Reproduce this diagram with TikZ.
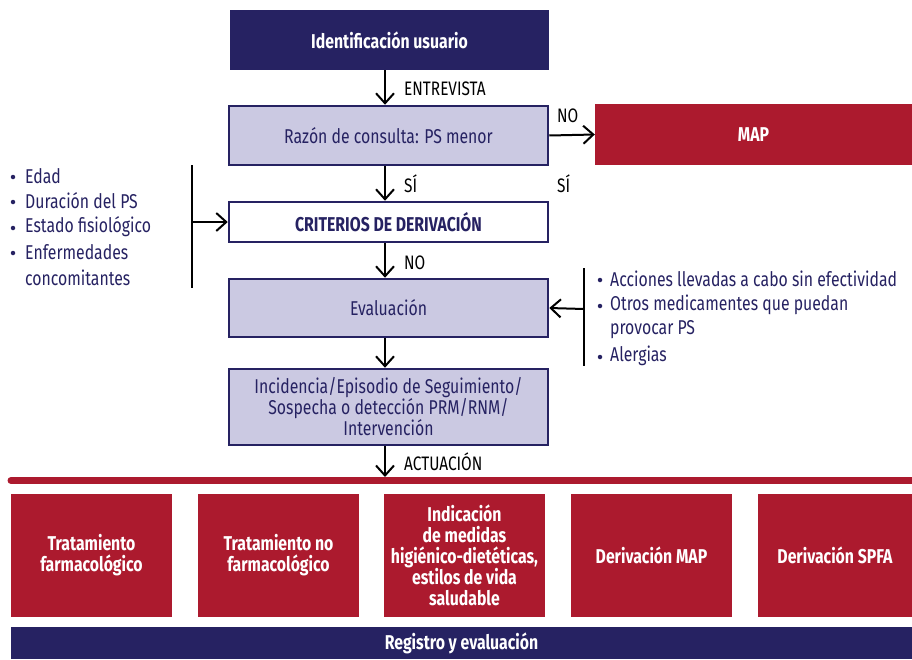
\documentclass[tikz,border=0pt]{standalone}
\usepackage{fontspec}
\setmainfont{Fira Sans}[FakeStretch=0.79]
\usetikzlibrary{arrows.meta}
\definecolor{navy}{HTML}{262262}
\definecolor{wine}{HTML}{AC1A2E}
\definecolor{lav}{HTML}{CBC9E2}
\tikzset{
  base/.style={inner sep=0pt, align=center, font=\fontsize{20}{21}\selectfont},
  navybox/.style={base, fill=navy, text=white, font=\fontsize{20}{21}\selectfont\bfseries},
  lavbox/.style={base, fill=lav, draw=navy, line width=2.5pt, text=navy, minimum width=319pt},
  whitebox/.style={base, fill=white, draw=navy, line width=2.5pt, text=navy, minimum width=319pt, font=\fontsize{20}{21}\selectfont\bfseries},
  redbox/.style={base, fill=wine, text=white, font=\fontsize{20}{21}\selectfont\bfseries},
  arr/.style={line width=2pt, -{Straight Barb[length=10pt,width=18pt,line width=2pt]}},
  lbl/.style={inner sep=0pt, anchor=west, font=\fontsize{19.5}{21}\selectfont, text=black},
  lst/.style={inner sep=0pt, anchor=west, font=\fontsize{20}{21}\selectfont, text=navy},
  bul/.style={circle, fill=navy, inner sep=0pt, minimum size=4.5pt},
}
\begin{document}
\begin{tikzpicture}[x=1pt,y=-1pt]
\useasboundingbox (0,0) rectangle (912,659);
% main column
\node[navybox, minimum width=319pt, minimum height=60pt] (ident) at (389.5,40) {Identificación usuario};
\node[lavbox, minimum height=59pt] (razon) at (388.5,135.5) {Razón de consulta: PS menor};
\node[redbox, minimum width=317pt, minimum height=61pt] (map) at (753.5,134.5) {MAP};
\node[whitebox, minimum height=40pt] (crit) at (388.5,222) {CRITERIOS DE DERIVACIÓN};
\node[lavbox, minimum height=58pt] (eval) at (388.5,308) {Evaluación};
\node[lavbox, minimum height=76pt] (inc) at (388.5,407) {Incidencia/Episodio de Seguimiento/\\Sospecha o detección PRM/RNM/\\Intervención};
% arrows
\draw[arr] (ident.south -| 385,0) -- (razon.north -| 385,0);
\node[lbl] (lentre) at (404,89) {ENTREVISTA};
\draw[arr] (razon.east) -- (map.west);
\node[lbl] (lno1) at (557,116) {NO};
\node[lbl] (lsi2) at (557,184) {SÍ};
\draw[arr] (razon.south -| 385,0) -- (crit.north -| 385,0);
\node[lbl] (lsi1) at (404,184) {SÍ};
\draw[arr] (crit.south -| 385,0) -- (eval.north -| 385,0);
\node[lbl] (lno2) at (404,263) {NO};
\draw[arr] (eval.south -| 385,0) -- (inc.north -| 385,0);
% left list
\coordinate (ltop) at (192,165);
\coordinate (lbot) at (192,288);
\coordinate (lmid) at (192,222);
\draw[line width=2pt] (ltop) -- (lbot);
\draw[arr] (lmid) -- (crit.west);
\node[bul] (b1) at (13,177) {}; \node[lst] (t1) at (25,176) {Edad};
\node[bul] (b2) at (13,202) {}; \node[lst] (t2) at (25,201) {Duración del PS};
\node[bul] (b3) at (13,228) {}; \node[lst] (t3) at (25,227) {Estado fisiológico};
\node[bul] (b4) at (13,253) {}; \node[lst] (t4) at (25,252) {Enfermedades};
\node[lst] (t5) at (25,278) {concomitantes};
% right list
\coordinate (rtop) at (584,268);
\coordinate (rbot) at (584,366);
\coordinate (rmid) at (584,309);
\draw[line width=2pt] (rtop) -- (rbot);
\draw[arr] (rmid) -- (eval.east);
\node[bul] (c1) at (600,280) {}; \node[lst] (u1) at (610,279) {Acciones llevadas a cabo sin efectividad};
\node[bul] (c2) at (600,306) {}; \node[lst] (u2) at (610,305) {Otros medicamentes que puedan};
\node[lst] (u3) at (610,330) {provocar PS};
\node[bul] (c3) at (600,357) {}; \node[lst] (u4) at (610,356) {Alergias};
% actuacion
\coordinate (rl) at (385,477);
\draw[arr] (inc.south -| 385,0) -- (rl);
\node[lbl] (lact) at (404,462) {ACTUACIÓN};
\coordinate (redl) at (11,480.5);
\coordinate (redr) at (912,480.5);
\draw[wine, line width=7pt, line cap=round] (redl) -- (redr);
% bottom boxes
\node[redbox, minimum width=161pt, minimum height=123pt] (o1) at (91.5,555.5) {Tratamiento\\farmacológico};
\node[redbox, minimum width=161pt, minimum height=123pt] (o2) at (278.5,555.5) {Tratamiento no\\farmacológico};
\node[redbox, minimum width=161pt, minimum height=123pt] (o3) at (464.5,555.5) {Indicación\\de medidas\\higiénico-dietéticas,\\estilos de vida\\saludable};
\node[redbox, minimum width=161pt, minimum height=123pt] (o4) at (651.5,555.5) {Derivación MAP};
\node[redbox, minimum width=154pt, minimum height=123pt] (o5) at (835,555.5) {Derivación SPFA};
\node[navybox, minimum width=901pt, minimum height=32pt] (reg) at (461.5,643) {Registro y evaluación};
\end{tikzpicture}
\end{document}
